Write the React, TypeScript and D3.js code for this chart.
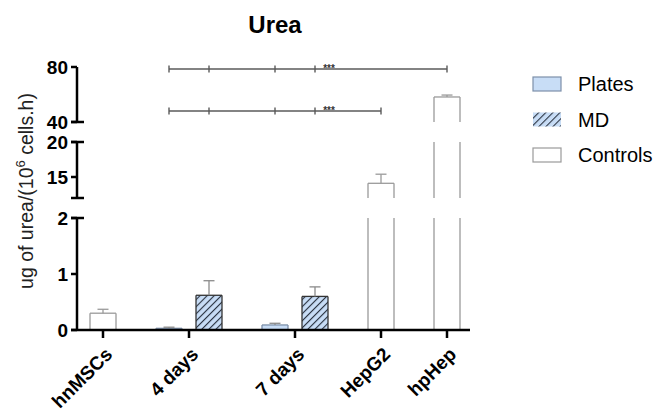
import * as d3 from 'd3';

const categories = ['hnMSCs', '4 days', '7 days', 'HepG2', 'hpHep'];
const seriesNames = ['Plates', 'MD', 'Controls'];

// values per category (null = no bar)
const platesValues = [null, 0.03, 0.09, null, null];
const platesErrors = [null, 0.02, 0.03, null, null];
const mdValues = [null, 0.62, 0.6, null, null];
const mdErrors = [null, 0.26, 0.17, null, null];
const controlsValues = [0.3, null, null, 14.1, 58.2];
const controlsErrors = [0.07, null, null, 1.3, 1.4];

// broken y-axis segments
const segDomains = [[0, 2], [12, 20], [40, 80]];
const segTicks = [[0, 1, 2], [15, 20], [40, 80]];

// significance lines: bars joined and their height
const sigLevels = [78.5, 48];
const sigEnds = ['hpHep', 'HepG2'];
const sigLabel = '***';

const W = 659;
const H = 410;
const font = "'Liberation Sans', Arial, Helvetica, sans-serif";

const axisX = 77;
const axisEnd = 470;
const segRanges = [[330, 218], [198, 142], [122, 67]];
const segScales = segDomains.map((d, i) => d3.scaleLinear().domain(d).range(segRanges[i]));
const baseY = segRanges[0][0];

const barW = 26;
const innerGap = 14;
const groupGap = 40;

const styles: Record<string, { fill: string; stroke: string; err: string }> = {
  Plates: { fill: '#c8ddf6', stroke: '#7d90aa', err: '#8a8a8a' },
  MD: { fill: 'url(#hatch)', stroke: '#333', err: '#8a8a8a' },
  Controls: { fill: '#fff', stroke: '#9a9a9a', err: '#9a9a9a' },
};

type Bar = { cat: string; series: string; value: number; err: number; x: number };

function buildBars() {
  const all = [platesValues, mdValues, controlsValues];
  const errs = [platesErrors, mdErrors, controlsErrors];
  const bars: Bar[] = [];
  const centers: number[] = [];
  let x = axisX + 13;
  categories.forEach((c, ci) => {
    const inCat = seriesNames.map((s, si) => ({ s, v: all[si][ci], e: errs[si][ci] })).filter(d => d.v != null);
    const gw = inCat.length * barW + (inCat.length - 1) * innerGap;
    centers.push(x + gw / 2);
    inCat.forEach((d, k) => {
      bars.push({ cat: c, series: d.s, value: d.v as number, err: d.e as number, x: x + k * (barW + innerGap) });
    });
    x += gw + groupGap;
  });
  return { bars, centers };
}

function segOf(v: number) {
  for (let i = segDomains.length - 1; i >= 0; i--) if (v >= segDomains[i][0]) return i;
  return 0;
}

export default function App() {
  const { bars, centers } = buildBars();
  const sigStarts = bars.filter(b => b.series !== 'Controls');

  return (
    <svg width={W} height={H} style={{ position: 'absolute', left: 0, top: 0, background: '#fff' }} fontFamily={font}>
      <defs>
        <pattern id="hatch" patternUnits="userSpaceOnUse" width="5" height="5" patternTransform="rotate(45)">
          <rect width="5" height="5" fill="#c8ddf6" />
          <line x1="0" y1="0" x2="0" y2="5" stroke="#2b3442" strokeWidth="2.2" />
        </pattern>
      </defs>

      <text x={275} y={33} textAnchor="middle" fontSize={24} fontWeight="bold">Urea</text>

      {/* bars */}
      {bars.map((b, i) => {
        const st = styles[b.series];
        const top = segOf(b.value);
        const parts = segDomains.slice(0, top + 1).map((d, si) => {
          const sc = segScales[si];
          const y0 = sc(d[0]);
          const y1 = sc(Math.min(b.value, d[1]));
          return (
            <g key={si}>
              <rect x={b.x} y={y1} width={barW} height={y0 - y1} fill={st.fill} stroke="none" />
              <line x1={b.x} x2={b.x} y1={y0} y2={y1} stroke={st.stroke} strokeWidth={1.3} />
              <line x1={b.x + barW} x2={b.x + barW} y1={y0} y2={y1} stroke={st.stroke} strokeWidth={1.3} />
              {si === top && <line x1={b.x} x2={b.x + barW} y1={y1} y2={y1} stroke={st.stroke} strokeWidth={1.3} />}
            </g>
          );
        });
        const sc = segScales[top];
        const cx = b.x + barW / 2;
        return (
          <g key={i}>
            {parts}
            <line x1={cx} x2={cx} y1={sc(b.value)} y2={sc(b.value + b.err)} stroke={st.err} strokeWidth={1.3} />
            <line x1={cx - 5.5} x2={cx + 5.5} y1={sc(b.value + b.err)} y2={sc(b.value + b.err)} stroke={st.err} strokeWidth={1.3} />
          </g>
        );
      })}

      {/* significance lines */}
      {sigLevels.map((lv, li) => {
        const y = segScales[2](lv);
        const end = bars.find(b => b.cat === sigEnds[li])!;
        const xs = sigStarts.map(b => b.x + barW / 2).concat([end.x + barW / 2]);
        const x0 = d3.min(xs)!;
        const x1 = d3.max(xs)!;
        const last = sigStarts[sigStarts.length - 1].x + barW / 2;
        return (
          <g key={li} stroke="#5a5a5a" strokeWidth={1.4}>
            <line x1={x0} x2={x1} y1={y} y2={y} />
            {xs.map((x, k) => <line key={k} x1={x} x2={x} y1={y - 3.5} y2={y + 3.5} />)}
            <text x={last + 14} y={y + 3} textAnchor="middle" fontSize={10} fontWeight="bold" stroke="none" fill="#333">{sigLabel}</text>
          </g>
        );
      })}

      {/* y axis segments */}
      {segScales.map((sc, si) => {
        const [r0, r1] = segRanges[si];
        return (
          <g key={si}>
            <line x1={axisX} x2={axisX} y1={r0} y2={r1} stroke="#000" strokeWidth={2.5} />
            {si > 0 && <line x1={axisX - 6} x2={axisX + 7} y1={r0} y2={r0} stroke="#000" strokeWidth={2.5} />}
            {si < segScales.length - 1 && <line x1={axisX - 6} x2={axisX + 7} y1={r1} y2={r1} stroke="#000" strokeWidth={2.5} />}
            {segTicks[si].map(t => (
              <g key={t}>
                <line x1={axisX - 6} x2={axisX} y1={sc(t)} y2={sc(t)} stroke="#000" strokeWidth={2.5} />
                <text x={axisX - 9} y={sc(t) + 7} textAnchor="end" fontSize={19} fontWeight="bold">{t}</text>
              </g>
            ))}
          </g>
        );
      })}

      {/* x axis */}
      <line x1={axisX - 6} x2={axisEnd} y1={baseY} y2={baseY} stroke="#000" strokeWidth={2.5} />
      {categories.map((c, i) => (
        <g key={c}>
          <line x1={centers[i]} x2={centers[i]} y1={baseY} y2={baseY + 8} stroke="#000" strokeWidth={2.5} />
          <text transform={`translate(${centers[i] + 1},${baseY + 16}) rotate(-45)`} textAnchor="end" fontSize={19} fontWeight="bold" dy="0.71em">{c}</text>
        </g>
      ))}

      {/* y label */}
      <text transform={`translate(33,191) rotate(-90)`} textAnchor="middle" fontSize={19.5} fill="#222">
        ug of urea/(10<tspan dy={-8} fontSize={13}>6</tspan><tspan dy={8}> cells.h)</tspan>
      </text>

      {/* legend */}
      {seriesNames.map((s, i) => {
        const cy = 84 + i * 35.5;
        const st = styles[s];
        return (
          <g key={s}>
            <rect x={533} y={cy - 7} width={28} height={14} fill={st.fill} stroke={s === 'MD' ? 'none' : st.stroke} strokeWidth={1.2} />
            <text x={578} y={cy + 7} fontSize={20}>{s}</text>
          </g>
        );
      })}
    </svg>
  );
}
